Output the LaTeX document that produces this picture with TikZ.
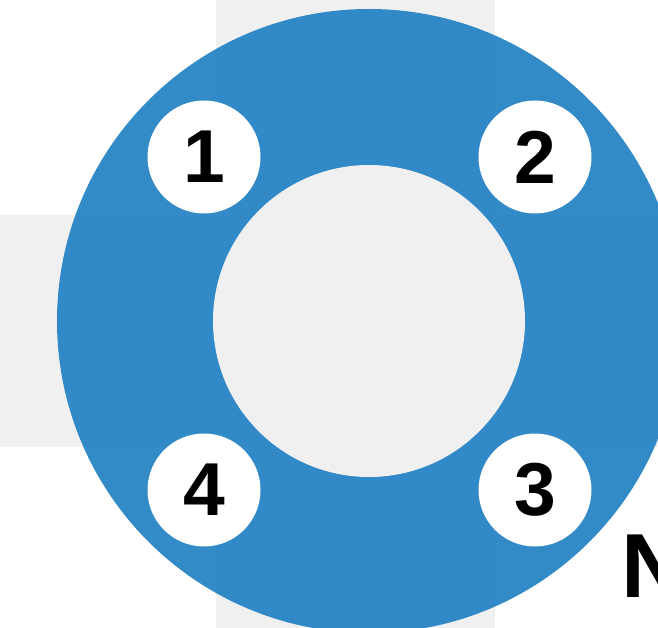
\documentclass[tikz,border=0pt]{standalone}
\usepackage{fontspec}
\setmainfont{Liberation Sans}
\definecolor{bandgray}{RGB}{240,240,240}
\definecolor{ringblue}{RGB}{39,132,197}
\begin{document}
\begin{tikzpicture}[x=1pt,y=-1pt,
  numcircle/.style={circle,fill=white,minimum size=113pt,inner sep=0pt,
    font=\fontsize{75}{75}\selectfont\bfseries},
  bigletter/.style={inner sep=0pt,anchor=base west,
    font=\fontsize{91}{91}\selectfont\bfseries}]
\useasboundingbox (0,0) rectangle (658,628);
\clip (0,0) rectangle (658,628);
\fill[white] (0,0) rectangle (658,628);
% gray cross
\fill[bandgray] (216,0) rectangle (495,628);
\fill[bandgray] (0,215) rectangle (658,447);
% ring
\fill[ringblue,fill opacity=0.95] (369,321) circle[radius=312pt];
\fill[bandgray] (369,321) circle[radius=156pt];
% numbered circles
\node[numcircle] (n1) at (204,157) {1};
\node[numcircle] (n2) at (535,157) {2};
\node[numcircle] (n3) at (535,490) {3};
\node[numcircle] (n4) at (204,490) {4};
% partial letter
\node[bigletter] (lbl) at (621,597) {N};
\end{tikzpicture}
\end{document}
